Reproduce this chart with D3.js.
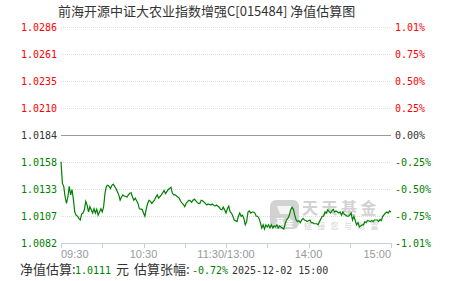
<!DOCTYPE html>
<html>
<head>
<meta charset="utf-8">
<script src="https://cdn.jsdelivr.net/npm/d3@7"></script>
<style>
  body { margin: 0; background: #fff; }
  svg { display: block; }
</style>
</head>
<body>
<div id="chart"></div>
<script>
const navTicks = ["1.0286", "1.0261", "1.0235", "1.0210", "1.0184", "1.0158", "1.0133", "1.0107", "1.0082"];
const pctTicks = ["1.01%", "0.75%", "0.50%", "0.25%", "0.00%", "-0.25%", "-0.50%", "-0.75%", "-1.01%"];
const timeTicks = [0, 30, 60, 90, 120, 150, 180, 210, 240];
const timeLabels = ["09:30", "", "10:30", "", "11:30/13:00", "", "14:00", "", "15:00"];

// minutes since 09:30 (trading time) and estimated change in %
const minutes = [0,1,2,3,4,5,6,7,8,9,10,11,12,13,14,15,16,17,18,19,20,21,22,23,24,25,26,27,28,29,30,31,32,33,34,35,36,37,38,39,40,41,42,43,44,45,46,48,49,50,51,52,53,54,56,57,59,60,61,62,63,64,65,66,68,69,70,71,73,74,75,76,77,78,79,80,81,82,83,84,86,87,89,90,91,93,94,95,96,97,99,100,101,102,103,105,106,107,109,110,112,113,115,116,117,118,119,120,121,122,123,124,125,126,128,129,130,131,132,133,134,135,136,137,138,139,140,141,142,143,144,145,146,147,148,149,150,151,152,153,154,155,156,157,158,159,160,161,162,163,164,165,166,167,168,169,170,171,172,173,174,175,176,177,178,179,181,182,183,184,186,187,188,190,191,192,193,194,196,197,198,199,200,202,203,204,205,206,208,209,210,211,212,213,214,215,216,217,219,220,221,222,223,225,226,227,228,230,231,232,233,234,236,237,238,239,240];
const change = [-0.25,-0.45,-0.48,-0.58,-0.64,-0.58,-0.48,-0.56,-0.51,-0.60,-0.72,-0.75,-0.76,-0.78,-0.795,-0.74,-0.73,-0.70,-0.62,-0.655,-0.72,-0.67,-0.70,-0.73,-0.69,-0.73,-0.695,-0.75,-0.72,-0.69,-0.72,-0.67,-0.545,-0.48,-0.47,-0.48,-0.50,-0.47,-0.46,-0.48,-0.50,-0.53,-0.56,-0.61,-0.58,-0.56,-0.57,-0.58,-0.56,-0.545,-0.54,-0.58,-0.61,-0.59,-0.64,-0.69,-0.695,-0.73,-0.76,-0.69,-0.64,-0.61,-0.62,-0.64,-0.61,-0.58,-0.56,-0.59,-0.56,-0.54,-0.52,-0.55,-0.53,-0.51,-0.50,-0.49,-0.545,-0.56,-0.56,-0.57,-0.59,-0.62,-0.65,-0.67,-0.64,-0.61,-0.615,-0.63,-0.61,-0.60,-0.63,-0.64,-0.64,-0.61,-0.615,-0.64,-0.655,-0.645,-0.655,-0.645,-0.665,-0.655,-0.675,-0.695,-0.70,-0.675,-0.70,-0.73,-0.69,-0.665,-0.72,-0.73,-0.76,-0.795,-0.81,-0.76,-0.73,-0.76,-0.75,-0.78,-0.84,-0.81,-0.72,-0.71,-0.73,-0.72,-0.72,-0.73,-0.76,-0.76,-0.78,-0.82,-0.87,-0.84,-0.88,-0.84,-0.86,-0.84,-0.87,-0.84,-0.87,-0.85,-0.86,-0.84,-0.87,-0.85,-0.86,-0.87,-0.88,-0.83,-0.795,-0.78,-0.75,-0.70,-0.675,-0.695,-0.75,-0.795,-0.81,-0.80,-0.82,-0.795,-0.78,-0.795,-0.80,-0.81,-0.795,-0.82,-0.82,-0.83,-0.83,-0.84,-0.81,-0.76,-0.76,-0.72,-0.73,-0.70,-0.73,-0.71,-0.695,-0.72,-0.71,-0.73,-0.72,-0.75,-0.72,-0.74,-0.76,-0.76,-0.75,-0.73,-0.795,-0.76,-0.80,-0.84,-0.82,-0.86,-0.84,-0.84,-0.81,-0.82,-0.80,-0.81,-0.80,-0.81,-0.795,-0.795,-0.81,-0.79,-0.80,-0.76,-0.73,-0.72,-0.73,-0.71,-0.72];

const title = "前海开源中证大农业指数增强C[015484] 净值估算图";
const estNav = "1.0111";
const estChange = "-0.72%";
const stamp = "2025-12-02 15:00";

const width = 451, height = 281;
const plotL = 61, plotR = 391, plotT = 27, plotB = 243;
const red = "#ff0000", green = "#008000", dark = "#333";
const mono = "'DejaVu Sans Mono', monospace";
const cjk = "'Noto Sans CJK SC', sans-serif";

const x = d3.scaleLinear().domain([0, 240]).range([plotL, plotR]);
const y = d3.scaleLinear().domain([-1.01, 1.01]).range([plotB, plotT]);
const row = d3.scalePoint().domain(d3.range(navTicks.length)).range([plotT, plotB]);
const rowColor = i => i < 4 ? red : (i === 4 ? dark : green);

const svg = d3.select("#chart").append("svg")
  .attr("width", width).attr("height", height);

svg.append("text")
  .attr("x", 58).attr("y", 16)
  .attr("font-family", cjk).attr("font-size", 13)
  .attr("fill", dark)
  .text(title);

// grid
const grid = svg.append("g");
navTicks.forEach((t, i) => {
  if (i === navTicks.length - 1) return;
  grid.append("line")
    .attr("x1", plotL).attr("x2", plotR)
    .attr("y1", row(i) + 0.5).attr("y2", row(i) + 0.5)
    .attr("stroke", i === 4 ? "#999" : "#ddd")
    .attr("stroke-width", 1)
    .attr("stroke-dasharray", i === 4 ? null : "1,1");
});

// watermark
const wm = svg.append("g").attr("opacity", 0.8);
wm.append("rect").attr("x", 270).attr("y", 200).attr("width", 29).attr("height", 29)
  .attr("rx", 6).attr("fill", "#c8c8c8");
wm.append("path").attr("d", "M277,206 h15 l-3,8 h-9 z").attr("fill", "#fff").attr("opacity", 0.8);
wm.append("text").attr("x", 284.5).attr("y", 226).attr("text-anchor", "middle")
  .attr("font-family", cjk).attr("font-size", 9).attr("font-weight", "bold").attr("fill", "#fff")
  .text("基金");
wm.append("text").attr("x", 302).attr("y", 214)
  .attr("font-family", cjk).attr("font-size", 16).attr("font-weight", "bold")
  .attr("letter-spacing", 3.5)
  .attr("fill", "#c8c8c8").text("天天基金");
wm.append("text").attr("x", 304).attr("y", 229)
  .attr("font-family", cjk).attr("font-size", 8).attr("letter-spacing", 5.3)
  .attr("fill", "#c8c8c8").text("链接您与财富");

// axis
const axis = svg.append("g").attr("stroke", "#c5d0dc");
axis.append("line").attr("x1", plotL).attr("x2", plotR)
  .attr("y1", plotB + 0.5).attr("y2", plotB + 0.5);
axis.selectAll("line.tick").data(timeTicks).join("line")
  .attr("class", "tick")
  .attr("x1", d => Math.round(x(d)) + 0.5).attr("x2", d => Math.round(x(d)) + 0.5)
  .attr("y1", plotB).attr("y2", plotB + 5);

svg.append("g")
  .attr("font-family", "'Liberation Sans', Arial, sans-serif").attr("font-size", 11)
  .attr("fill", "#999")
  .selectAll("text").data(timeTicks).join("text")
  .attr("x", d => x(d))
  .attr("y", 258)
  .attr("text-anchor", (d, i) => i === 0 ? "start" : (i === timeTicks.length - 1 ? "end" : "middle"))
  .text((d, i) => timeLabels[i]);

// axis labels
svg.append("g").attr("font-family", mono).attr("font-size", 10).attr("text-anchor", "end")
  .selectAll("text").data(navTicks).join("text")
  .attr("x", 57).attr("y", (d, i) => row(i) + 4)
  .attr("fill", (d, i) => rowColor(i))
  .text(d => d);

svg.append("g").attr("font-family", mono).attr("font-size", 10)
  .selectAll("text").data(pctTicks).join("text")
  .attr("x", 395).attr("y", (d, i) => row(i) + 4)
  .attr("fill", (d, i) => rowColor(i))
  .text(d => d);

// line
const pts = minutes.map((m, i) => [m, change[i]]);
svg.append("path")
  .datum(pts)
  .attr("fill", "none")
  .attr("stroke", green)
  .attr("stroke-width", 1.2)
  .attr("d", d3.line().x(d => x(d[0])).y(d => y(d[1])));

// footer
const foot = svg.append("g").attr("fill", dark);
const part = (tx, px, font, size, color) => foot.append("text")
  .attr("x", px).attr("y", 274).attr("font-family", font).attr("font-size", size)
  .attr("fill", color).text(tx);
part("净值估算:", 20, cjk, 13, dark);
part(estNav, 75, mono, 10, green);
part("元", 116, cjk, 13, dark);
part("估算张幅:", 134, cjk, 13, dark);
part(estChange, 192, mono, 10, green);
part(stamp, 232, mono, 10, dark);
</script>
</body>
</html>
